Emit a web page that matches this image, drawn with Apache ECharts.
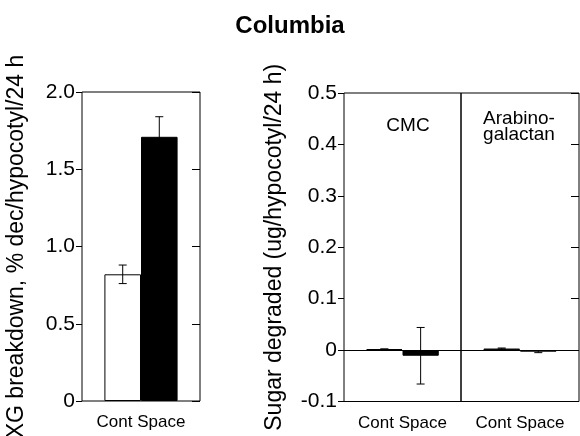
<!DOCTYPE html>
<html>
<head>
<meta charset="utf-8">
<script src="https://cdn.jsdelivr.net/npm/echarts@6/dist/echarts.min.js"></script>
<style>html,body{margin:0;padding:0;background:#fff}#c{width:580px;height:436px}</style>
</head>
<body>
<div id="c"></div>
<script>
// ---- data ----
const groups = ['Cont', 'Space'];
const panelCategory = ['Cont Space'];
const xgMean = [0.82, 1.71];
const xgErr = [0.06, 0.13];
const cmcMean = [0.002, -0.011];
const cmcErr = [0, 0.055];
const araMean = [0.003, -0.003];
const araErr = [0.001, 0.002];
const panelNames = ['CMC', 'Arabino-\ngalactan'];

const FONT = '"Liberation Sans", Arial, Helvetica, sans-serif';
const BAR_FRAC = 0.31;

function fmt(v) { return v === 0 ? '0' : v.toFixed(1); }

function errRender(params, api) {
  const cat = api.value(0), side = api.value(1), v = api.value(2), e = api.value(3);
  const band = api.size([1, 0])[0];
  const bw = band * BAR_FRAC;
  const c = api.coord([cat, v]);
  const x = c[0] + (side === 0 ? -bw / 2 : bw / 2);
  const hi = api.coord([cat, v + e])[1];
  const lo = api.coord([cat, v - e])[1];
  const cap = 4;
  const st = { stroke: '#000', lineWidth: 1 };
  return {
    type: 'group',
    children: [
      { type: 'line', shape: { x1: x, y1: hi, x2: x, y2: lo }, style: st },
      { type: 'line', shape: { x1: x - cap, y1: hi, x2: x + cap, y2: hi }, style: st },
      { type: 'line', shape: { x1: x - cap, y1: lo, x2: x + cap, y2: lo }, style: st }
    ]
  };
}

function errData(mean, err) {
  return mean.map((m, i) => [0, i, m, err[i]]);
}

const gridBase = { show: true, borderColor: '#000', borderWidth: 1, backgroundColor: 'transparent', containLabel: false, outerBoundsMode: 'none' };

function xAxisFor(gi) {
  return {
    type: 'category', gridIndex: gi, data: panelCategory,
    axisLine: { show: false }, axisTick: { show: false },
    axisLabel: { fontSize: 17, color: '#000', margin: 13, fontFamily: FONT }
  };
}

function barSeries(gi, yi, mean, zeroLine) {
  const out = [];
  groups.forEach((g, i) => {
    const s = {
      type: 'bar', name: g, xAxisIndex: gi, yAxisIndex: yi,
      data: [mean[i]], barWidth: (BAR_FRAC * 100) + '%', barGap: '0%',
      itemStyle: i === 0 ? { color: '#fff', borderColor: '#000', borderWidth: 1 } : { color: '#000', borderColor: '#000', borderWidth: 1 },
      silent: true, animation: false
    };
    if (i === 0 && zeroLine) {
      s.markLine = { silent: true, symbol: 'none', label: { show: false },
        lineStyle: { color: '#000', width: 1, type: 'solid' }, data: [{ yAxis: 0 }], animation: false };
    }
    out.push(s);
  });
  return out;
}

const chart = echarts.init(document.getElementById('c'), null, { renderer: 'canvas' });
const option = {
  animation: false,
  textStyle: { fontFamily: FONT, color: '#000' },
  title: {
    text: 'Columbia', left: 'center', top: 14, padding: 0,
    textStyle: { fontSize: 24, fontWeight: 'bold', color: '#000', fontFamily: FONT }
  },
  graphic: [
    { type: 'text', x: 408, y: 126, style: { text: panelNames[0], fontSize: 19, fontFamily: FONT, fill: '#000', textAlign: 'center', textVerticalAlign: 'middle' } },
    { type: 'text', x: 519, y: 127, style: { text: panelNames[1], fontSize: 19, lineHeight: 16, fontFamily: FONT, fill: '#000', textAlign: 'center', textVerticalAlign: 'middle' } }
  ],
  grid: [
    Object.assign({ left: 82, top: 92, width: 118, height: 309 }, gridBase),
    Object.assign({ left: 344, top: 93, width: 117, height: 308.5 }, gridBase),
    Object.assign({ left: 461, top: 93, width: 118, height: 308.5 }, gridBase)
  ],
  xAxis: [xAxisFor(0), xAxisFor(1), xAxisFor(2)],
  yAxis: [
    { type: 'value', gridIndex: 0, min: 0, max: 2, interval: 0.5, position: 'left',
      name: 'XG breakdown, % dec/hypocotyl/24 h', nameLocation: 'middle', nameGap: 54,
      nameTextStyle: { fontSize: 23, color: '#000', fontFamily: FONT },
      axisLine: { show: false }, splitLine: { show: false },
      axisTick: { show: true, inside: false, length: 6, lineStyle: { color: '#000' } },
      axisLabel: { fontSize: 21, color: '#000', margin: 7, formatter: fmt, fontFamily: FONT } },
    { type: 'value', gridIndex: 0, min: 0, max: 2, interval: 0.5, position: 'right',
      axisLine: { show: false }, splitLine: { show: false },
      axisTick: { show: true, inside: true, length: 8, lineStyle: { color: '#000' } },
      axisLabel: { show: false } },
    { type: 'value', gridIndex: 1, min: -0.1, max: 0.5, interval: 0.1, position: 'left',
      name: 'Sugar degraded (ug/hypocotyl/24 h)', nameLocation: 'middle', nameGap: 58,
      nameTextStyle: { fontSize: 23, color: '#000', fontFamily: FONT },
      axisLine: { show: false }, splitLine: { show: false },
      axisTick: { show: true, inside: false, length: 6, lineStyle: { color: '#000' } },
      axisLabel: { fontSize: 21, color: '#000', margin: 7, formatter: fmt, fontFamily: FONT } },
    { type: 'value', gridIndex: 2, min: -0.1, max: 0.5, interval: 0.1, position: 'left',
      axisLine: { show: false }, splitLine: { show: false }, axisTick: { show: false }, axisLabel: { show: false } },
    { type: 'value', gridIndex: 2, min: -0.1, max: 0.5, interval: 0.1, position: 'right',
      axisLine: { show: false }, splitLine: { show: false },
      axisTick: { show: true, inside: true, length: 8, lineStyle: { color: '#000' } },
      axisLabel: { show: false } }
  ],
  series: [
    ...barSeries(0, 0, xgMean, false),
    ...barSeries(1, 2, cmcMean, true),
    ...barSeries(2, 3, araMean, true),
    { type: 'custom', xAxisIndex: 0, yAxisIndex: 0, renderItem: errRender, data: errData(xgMean, xgErr), encode: { x: 0, y: 2 }, silent: true, z: 5 },
    { type: 'custom', xAxisIndex: 1, yAxisIndex: 2, renderItem: errRender, data: errData(cmcMean, cmcErr), encode: { x: 0, y: 2 }, silent: true, z: 5 },
    { type: 'custom', xAxisIndex: 2, yAxisIndex: 3, renderItem: errRender, data: errData(araMean, araErr), encode: { x: 0, y: 2 }, silent: true, z: 5 }
  ]
};
chart.setOption(option);
</script>
</body>
</html>
